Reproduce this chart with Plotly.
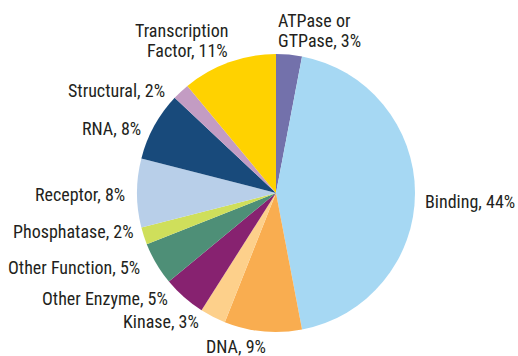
import plotly.graph_objects as go

# Share of proteins by molecular function (percent)
categories = ["ATPase or GTPase", "Binding", "DNA", "Kinase", "Other Enzyme",
              "Other Function", "Phosphatase", "Receptor", "RNA", "Structural",
              "Transcription Factor"]
values = [3, 44, 9, 3, 5, 5, 2, 8, 8, 2, 11]
colors = ["#7371ab", "#a6d8f3", "#f9ad50", "#fdd08b", "#872270", "#4e8f77",
          "#cfdf5b", "#b8cfe9", "#184a7b", "#c39cc3", "#ffd200"]

# Label text lines and their placement (pixel coords of the text edge, anchor side)
label_lines = {
    "ATPase or GTPase": ["ATPase or", "GTPase, {}%"],
    "Transcription Factor": ["Transcription", "Factor, {}%"],
}
label_place = {
    "ATPase or GTPase": (278, 20, "left"),
    "Binding": (425, 201, "left"),
    "DNA": (236, 346, "center"),
    "Kinase": (199, 321, "right"),
    "Other Enzyme": (168, 298, "right"),
    "Other Function": (140, 267, "right"),
    "Phosphatase": (134, 231, "right"),
    "Receptor": (125, 194, "right"),
    "RNA": (141, 128, "right"),
    "Structural": (165, 90, "right"),
    "Transcription Factor": (228, 30, "right"),
}
LINE_GAP = 20
PAD = 2  # annotation border + padding around the text
W, H = 518, 356
FONT = "Roboto Condensed, DejaVu Sans Condensed, sans-serif"

fig = go.Figure()
cx, cy, r = 276, 193, 139
fig.add_trace(go.Pie(
    labels=categories, values=values, sort=False, direction="clockwise",
    rotation=0, textinfo="none", hoverinfo="label+percent",
    marker=dict(colors=colors, line=dict(width=0)),
    domain=dict(x=[(cx - r) / W, (cx + r) / W], y=[1 - (cy + r) / H, 1 - (cy - r) / H]),
    showlegend=False,
))

shift = {"left": -PAD, "right": PAD, "center": 0}
annotations = []
for cat, val in zip(categories, values):
    x, y, side = label_place[cat]
    lines = label_lines.get(cat, [cat + ", {}%"])
    for i, line in enumerate(lines):
        annotations.append(dict(
            x=x + shift[side], y=y + i * LINE_GAP, xref="x", yref="y",
            text=line.format(val), showarrow=False,
            xanchor=side, yanchor="middle",
            font=dict(family=FONT, size=18, color="#231f20"),
        ))

fig.update_layout(
    width=W, height=H, margin=dict(l=0, r=0, t=0, b=0),
    paper_bgcolor="white", plot_bgcolor="white",
    xaxis=dict(range=[0, W], visible=False, fixedrange=True),
    yaxis=dict(range=[H, 0], visible=False, fixedrange=True),
    annotations=annotations,
)
fig.write_html("out.html")
